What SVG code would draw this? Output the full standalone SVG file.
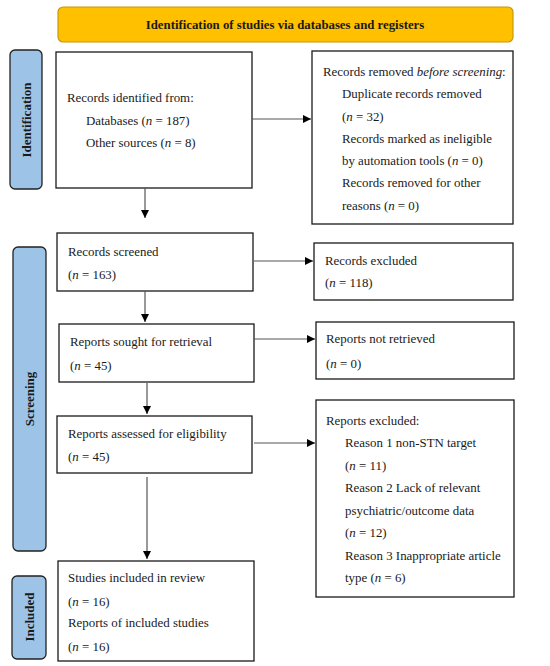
<svg xmlns="http://www.w3.org/2000/svg" width="550" height="666" viewBox="0 0 550 666">
<style>
text{font-family:"Liberation Serif","Times New Roman",serif;font-size:12.9px;fill:#1a1a1a}
.b{fill:#fff;stroke:#1a1a1a;stroke-width:1.3}
.side{fill:#9DC3E6;stroke:#222;stroke-width:1.3}
.st{font-weight:bold;font-size:13px;text-anchor:middle}
.c{stroke:#555;stroke-width:1.2;fill:none;marker-end:url(#ah)}
</style>
<defs>
<marker id="ah" viewBox="0 0 10 10" refX="10" refY="5" markerWidth="8" markerHeight="8" markerUnits="userSpaceOnUse" orient="auto">
<path d="M0,0L10,5L0,10z" fill="#000"/>
</marker>
</defs>
<g id="header">
<rect x="58" y="7" width="455" height="35" rx="5" fill="#FFC000" stroke="#C89A00" stroke-width="1.2"/>
<text x="285" y="29" style="font-weight:bold;font-size:12.8px;text-anchor:middle">Identification of studies via databases and registers</text>
</g>
<g id="lbl-identification">
<rect class="side" x="10" y="50" width="32" height="139" rx="5"/>
<text class="st" transform="translate(30.5,120) rotate(-90)">Identification</text>
</g>
<g id="lbl-screening">
<rect class="side" x="13" y="247" width="33" height="304" rx="5"/>
<text class="st" transform="translate(34,399) rotate(-90)">Screening</text>
</g>
<g id="lbl-included">
<rect class="side" x="12" y="576" width="34" height="83" rx="5"/>
<text class="st" transform="translate(33.5,617) rotate(-90)">Included</text>
</g>
<g id="n-identified">
<rect class="b" x="56" y="52" width="196" height="136"/>
<text x="67" y="102">Records identified from:</text>
<text x="86" y="125">Databases (<tspan font-style="italic">n</tspan> = 187)</text>
<text x="86" y="147">Other sources (<tspan font-style="italic">n</tspan> = 8)</text>
</g>
<g id="n-removed">
<rect class="b" x="312" y="51" width="201" height="173"/>
<text x="323" y="76">Records removed <tspan font-style="italic">before screening</tspan>:</text>
<text x="342" y="98">Duplicate records removed</text>
<text x="342" y="121">(<tspan font-style="italic">n</tspan> = 32)</text>
<text x="342" y="143">Records marked as ineligible</text>
<text x="342" y="165">by automation tools (<tspan font-style="italic">n</tspan> = 0)</text>
<text x="342" y="187">Records removed for other</text>
<text x="342" y="210">reasons (<tspan font-style="italic">n</tspan> = 0)</text>
</g>
<g id="n-screened">
<rect class="b" x="57" y="233" width="196" height="58"/>
<text x="68" y="256">Records screened</text>
<text x="68" y="279">(<tspan font-style="italic">n</tspan> = 163)</text>
</g>
<g id="n-excluded">
<rect class="b" x="314" y="243" width="199" height="57"/>
<text x="325" y="265">Records excluded</text>
<text x="325" y="287">(<tspan font-style="italic">n</tspan> = 118)</text>
</g>
<g id="n-sought">
<rect class="b" x="59" y="324" width="195" height="58"/>
<text x="70" y="346">Reports sought for retrieval</text>
<text x="70" y="370">(<tspan font-style="italic">n</tspan> = 45)</text>
</g>
<g id="n-notretrieved">
<rect class="b" x="316" y="322" width="198" height="57"/>
<text x="326" y="343">Reports not retrieved</text>
<text x="326" y="368">(<tspan font-style="italic">n</tspan> = 0)</text>
</g>
<g id="n-assessed">
<rect class="b" x="57" y="416" width="195" height="57"/>
<text x="68" y="438">Reports assessed for eligibility</text>
<text x="68" y="461">(<tspan font-style="italic">n</tspan> = 45)</text>
</g>
<g id="n-reportsexcluded">
<rect class="b" x="316" y="400" width="198" height="197"/>
<text x="326" y="425">Reports excluded:</text>
<text x="345" y="447">Reason 1 non-STN target</text>
<text x="345" y="470">(<tspan font-style="italic">n</tspan> = 11)</text>
<text x="345" y="492">Reason 2 Lack of relevant</text>
<text x="345" y="515">psychiatric/outcome data</text>
<text x="345" y="537">(<tspan font-style="italic">n</tspan> = 12)</text>
<text x="345" y="560">Reason 3 Inappropriate article</text>
<text x="345" y="582">type (<tspan font-style="italic">n</tspan> = 6)</text>
</g>
<g id="n-included">
<rect class="b" x="58" y="561" width="196" height="100"/>
<text x="68" y="582">Studies included in review</text>
<text x="68" y="606">(<tspan font-style="italic">n</tspan> = 16)</text>
<text x="68" y="627">Reports of included studies</text>
<text x="68" y="651">(<tspan font-style="italic">n</tspan> = 16)</text>
</g>
<g id="connectors">
<line class="c" x1="252" y1="119" x2="311" y2="119"/>
<line class="c" x1="145" y1="188" x2="145" y2="218"/>
<line class="c" x1="254" y1="261" x2="313" y2="261"/>
<line class="c" x1="145" y1="291" x2="145" y2="322"/>
<line class="c" x1="254" y1="339" x2="315" y2="339"/>
<line class="c" x1="147" y1="383" x2="147" y2="414"/>
<line class="c" x1="254" y1="443" x2="315" y2="443"/>
<line class="c" x1="147" y1="477" x2="147" y2="559"/>
</g>
</svg>
